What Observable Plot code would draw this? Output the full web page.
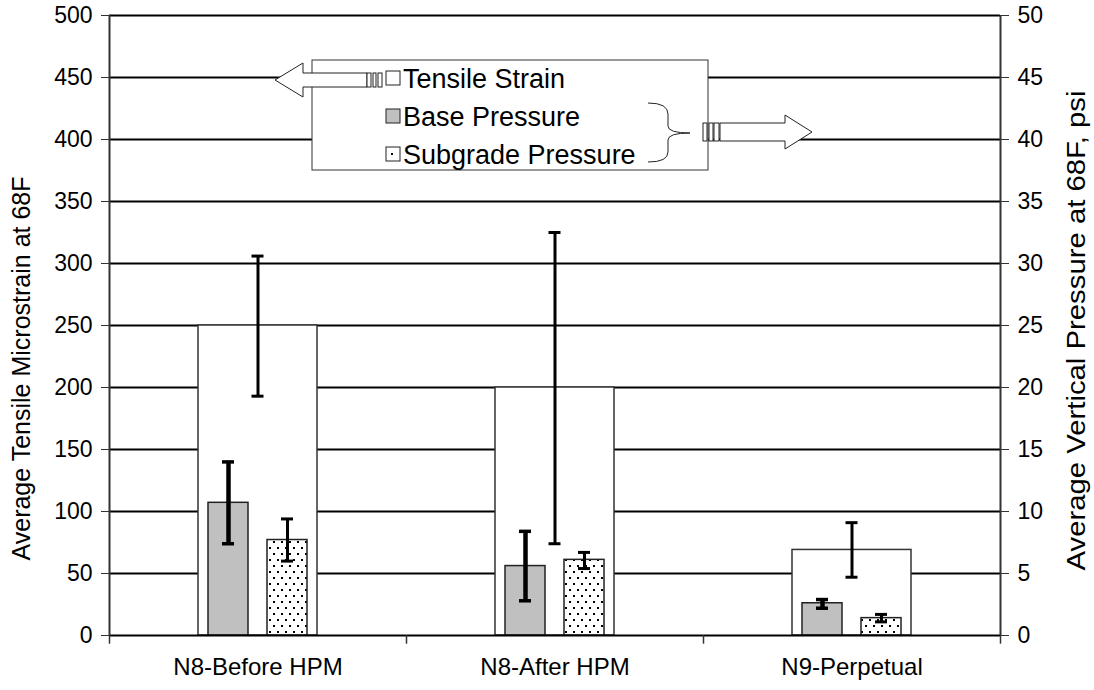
<!DOCTYPE html>
<html>
<head>
<meta charset="utf-8">
<script src="https://cdn.jsdelivr.net/npm/d3@7"></script>
<script src="https://cdn.jsdelivr.net/npm/@observablehq/plot@0.6"></script>
<style>
  html, body { margin: 0; padding: 0; background: white; }
  #chart { position: relative; width: 1094px; height: 690px; }
  #chart svg { font-family: "Liberation Sans", Arial, sans-serif; }
</style>
</head>
<body>
<div id="chart"></div>
<script>
// ---- data ----
const categories = ["N8-Before HPM", "N8-After HPM", "N9-Perpetual"];
const strain = [250, 200, 69];
const strainLow = [193, 74, 47];
const strainHigh = [306, 325, 91];
const basePressure = [10.7, 5.6, 2.6];
const baseLow = [7.4, 2.8, 2.2];
const baseHigh = [14.0, 8.4, 2.9];
const subgradePressure = [7.7, 6.1, 1.4];
const subgradeLow = [6.0, 5.4, 1.1];
const subgradeHigh = [9.4, 6.7, 1.7];
const leftTicks = [0, 50, 100, 150, 200, 250, 300, 350, 400, 450, 500];
const rightTicks = [0, 5, 10, 15, 20, 25, 30, 35, 40, 45, 50];
const leftTitle = "Average Tensile Microstrain at 68F";
const rightTitle = "Average Vertical Pressure at 68F, psi";
const legendLabels = ["Tensile Strain", "Base Pressure", "Subgrade Pressure"];

// right axis (psi) maps onto left scale by factor 10
const psiFactor = 10;

const rows = categories.map((c, i) => ({
  category: c,
  strain: strain[i], strainLow: strainLow[i], strainHigh: strainHigh[i],
  base: basePressure[i] * psiFactor, baseLow: baseLow[i] * psiFactor, baseHigh: baseHigh[i] * psiFactor,
  sub: subgradePressure[i] * psiFactor, subLow: subgradeLow[i] * psiFactor, subHigh: subgradeHigh[i] * psiFactor
}));

// ---- layout ----
const W = 1094, H = 690;
const mL = 109, mR = 94, mT = 15, mB = 55;
const bw = (W - mL - mR) / categories.length; // band width
const half = bw / 2;
const capHalf = 6;
const strainInset = 89;
const baseL = 99, baseR = bw - 139;
const subL = bw - 139, subR = 99;
const baseCenter = 119, subCenter = bw - 119;

const font = "Liberation Sans, Arial, sans-serif";

const chart = Plot.plot({
  width: W, height: H,
  marginLeft: mL, marginRight: mR, marginTop: mT, marginBottom: mB,
  style: { fontFamily: font, fontSize: "23px", background: "white", color: "black" },
  x: { domain: categories, padding: 0, label: null },
  y: { domain: [0, 500], label: null },
  marks: [
    Plot.ruleY(leftTicks.filter(d => d > 0), { stroke: "black", strokeWidth: 2 }),
    Plot.barY(rows, { x: "category", y: "strain", fill: "white", stroke: "#333", strokeWidth: 1.5, insetLeft: strainInset, insetRight: strainInset }),
    Plot.barY(rows, { x: "category", y: "base", fill: "#c0c0c0", stroke: "#222", strokeWidth: 1.5, insetLeft: baseL, insetRight: baseR }),
    Plot.barY(rows, { x: "category", y: "sub", fill: "url(#dots)", stroke: "#222", strokeWidth: 1.5, insetLeft: subL, insetRight: subR }),
    Plot.ruleX(rows, { x: "category", y1: "strainLow", y2: "strainHigh", stroke: "black", strokeWidth: 3 }),
    Plot.tickY(rows, { x: "category", y: "strainLow", stroke: "black", strokeWidth: 3, insetLeft: half - capHalf, insetRight: half - capHalf }),
    Plot.tickY(rows, { x: "category", y: "strainHigh", stroke: "black", strokeWidth: 3, insetLeft: half - capHalf, insetRight: half - capHalf }),
    Plot.ruleX(rows, { x: "category", dx: baseCenter - half, y1: "baseLow", y2: "baseHigh", stroke: "black", strokeWidth: 4.5 }),
    Plot.tickY(rows, { x: "category", y: "baseLow", stroke: "black", strokeWidth: 3.5, insetLeft: baseCenter - capHalf, insetRight: bw - baseCenter - capHalf }),
    Plot.tickY(rows, { x: "category", y: "baseHigh", stroke: "black", strokeWidth: 3.5, insetLeft: baseCenter - capHalf, insetRight: bw - baseCenter - capHalf }),
    Plot.ruleX(rows, { x: "category", dx: subCenter - half, y1: "subLow", y2: "subHigh", stroke: "black", strokeWidth: 3 }),
    Plot.tickY(rows, { x: "category", y: "subLow", stroke: "black", strokeWidth: 3, insetLeft: subCenter - capHalf, insetRight: bw - subCenter - capHalf }),
    Plot.tickY(rows, { x: "category", y: "subHigh", stroke: "black", strokeWidth: 3, insetLeft: subCenter - capHalf, insetRight: bw - subCenter - capHalf }),
    Plot.ruleY([0], { stroke: "black", strokeWidth: 2 }),
    Plot.ruleX([categories[0]], { dx: -half, y1: 0, y2: 500, stroke: "#333", strokeWidth: 2 }),
    Plot.ruleX([categories[categories.length - 1]], { dx: half, y1: 0, y2: 500, stroke: "#333", strokeWidth: 2 }),
    Plot.ruleX(categories, { x: d => d, dx: -half, y1: 0, y2: -7, stroke: "#333", strokeWidth: 1.5 }),
    Plot.ruleX([categories[categories.length - 1]], { dx: half, y1: 0, y2: -7, stroke: "#333", strokeWidth: 1.5 }),
    Plot.axisY(leftTicks, { anchor: "left", tickSize: 8, tickPadding: 9, label: null, fontSize: 23, stroke: "#333" }),
    Plot.axisY(rightTicks.map(d => d * psiFactor), { anchor: "right", tickSize: 8, tickPadding: 9, label: null, fontSize: 23, stroke: "#333", tickFormat: d => String(d / psiFactor) }),
    Plot.axisX({ tickSize: 0, tickPadding: 22, label: null, fontSize: 24 }),
    Plot.text([leftTitle], { frameAnchor: "left", textAnchor: "middle", dx: -88, dy: 43, rotate: -90, fontSize: 25, fill: "black", text: d => d }),
    Plot.text([rightTitle], { className: "right-title", frameAnchor: "right", textAnchor: "middle", dx: 76, dy: 5, rotate: -90, fontSize: 25, fill: "black", text: d => d })
  ]
});

document.getElementById("chart").appendChild(chart);

const svg = d3.select(chart);
// slightly elongated right title, as in the reference
svg.selectAll(".right-title text").attr("textLength", 480).attr("lengthAdjust", "spacingAndGlyphs");

// pattern defs + legend overlay
const defs = svg.insert("defs", ":first-child");
const pat = defs.append("pattern").attr("id", "dots").attr("patternUnits", "userSpaceOnUse")
  .attr("width", 8).attr("height", 12);
pat.append("rect").attr("width", 8).attr("height", 12).attr("fill", "white");
pat.append("rect").attr("x", 1).attr("y", 1).attr("width", 2).attr("height", 2).attr("fill", "black");
pat.append("rect").attr("x", 5).attr("y", 7).attr("width", 2).attr("height", 2).attr("fill", "black");

const lg = svg.append("g").attr("class", "legend").attr("text-anchor", "start");
lg.append("rect").attr("x", 312).attr("y", 60).attr("width", 396).attr("height", 110)
  .attr("fill", "white").attr("stroke", "#333").attr("stroke-width", 1);

// left arrow
lg.append("polygon")
  .attr("points", "275,80 303,63 303,73 367,73 367,87 303,87 303,97")
  .attr("fill", "white").attr("stroke", "#222").attr("stroke-width", 1);
[[367, 4], [373, 3], [378, 4]].forEach(([x, w]) =>
  lg.append("rect").attr("x", x).attr("y", 73).attr("width", w).attr("height", 14)
    .attr("fill", "white").attr("stroke", "#222").attr("stroke-width", 1));

// swatches
const rowsY = [78, 116, 154];
const swFill = ["white", "#c0c0c0", "white"];
rowsY.forEach((y, i) => {
  lg.append("rect").attr("x", 386).attr("y", y - 7).attr("width", 14).attr("height", 14)
    .attr("fill", swFill[i]).attr("stroke", "#222").attr("stroke-width", 1);
  lg.append("text").attr("x", 403).attr("y", y).attr("dy", "0.36em")
    .attr("text-anchor", "start")
    .attr("font-family", font).attr("font-size", 27).attr("fill", "black")
    .text(legendLabels[i]);
});
lg.append("rect").attr("x", 391).attr("y", rowsY[2] - 1).attr("width", 2).attr("height", 2).attr("fill", "black");

// brace
lg.append("path")
  .attr("d", "M648,103 Q668,103 668,114 L668,126 Q668,133 690,133 Q668,133 668,140 L668,152 Q668,162 648,162")
  .attr("fill", "none").attr("stroke", "#222").attr("stroke-width", 1);

// right arrow
lg.append("polygon")
  .attr("points", "720,123 785,123 785,115 812,132 785,149 785,141 720,141")
  .attr("fill", "white").attr("stroke", "#222").attr("stroke-width", 1);
[[703, 4], [709, 4], [714, 5]].forEach(([x, w]) =>
  lg.append("rect").attr("x", x).attr("y", 123).attr("width", w).attr("height", 18)
    .attr("fill", "white").attr("stroke", "#222").attr("stroke-width", 1));
</script>
</body>
</html>
